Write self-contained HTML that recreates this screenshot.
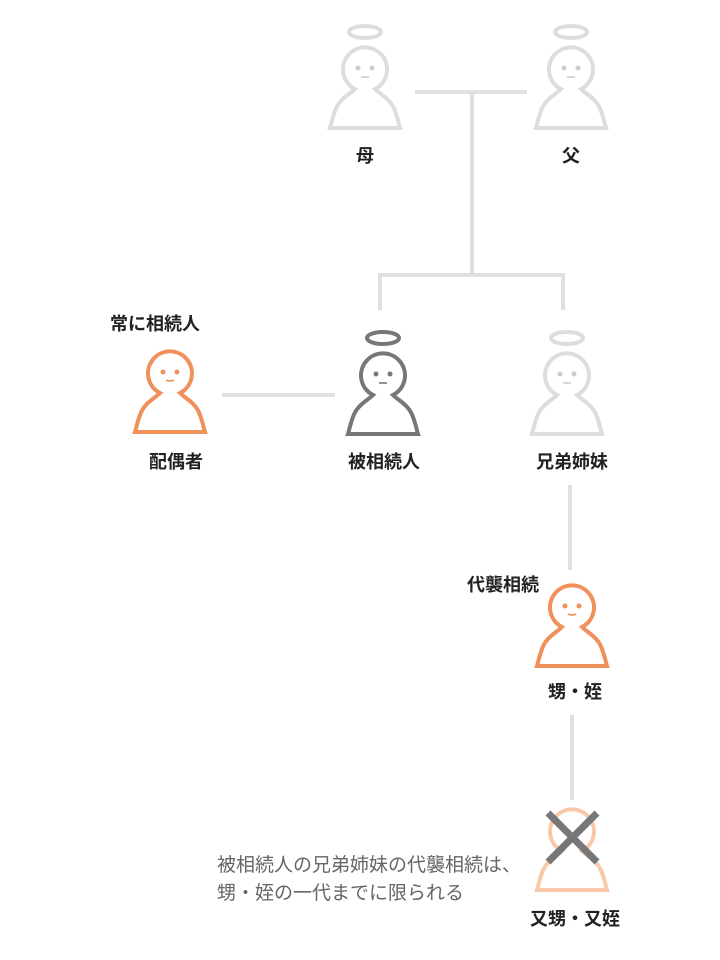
<!DOCTYPE html>
<html><head><meta charset="utf-8"><style>
body{margin:0;background:#fff;}
svg{display:block;font-family:"Liberation Sans","Noto Sans CJK JP",sans-serif;}
.l{font-weight:bold;font-size:18px;fill:#222;text-anchor:middle;}
</style></head><body>
<svg width="720" height="960" viewBox="0 0 720 960">
<defs>
<path id="p" d="M -10,20 A 22 22 0 1 1 10,20 C 16,26 26,30 30,42 C 33,50 34,56 35,59 L -35,59 C -34,56 -33,50 -30,42 C -26,30 -16,26 -10,20 Z"/>
<g id="face"><circle cx="-7" cy="-1" r="2"/><circle cx="7" cy="-1" r="2"/><path d="M -4,7 Q 0,9 4,7" fill="none" stroke-width="1.6"/></g>
<g id="face2"><circle cx="-7" cy="-1" r="2"/><circle cx="7" cy="-1" r="2"/><path d="M -4,8 L 4,8" fill="none" stroke-width="1.6"/></g>
</defs>
<g stroke="#e0e0e0" stroke-width="4" fill="none">
<path d="M415 92 H527 M472 92 V275 M380 310 V275 H563 V310 M222 395 H335 M570 485 V570 M572 715 V800"/>
</g>
<g transform="translate(365,69)"><ellipse cx="0" cy="-37" rx="16" ry="6" fill="none" stroke="#ddd" stroke-width="4"/><use href="#p" fill="#fff" stroke="#ddd" stroke-width="4"/><use href="#face2" fill="#ccc" stroke="#ccc"/></g>
<g transform="translate(571,69)"><ellipse cx="0" cy="-37" rx="16" ry="6" fill="none" stroke="#ddd" stroke-width="4"/><use href="#p" fill="#fff" stroke="#ddd" stroke-width="4"/><use href="#face2" fill="#ccc" stroke="#ccc"/></g>
<text x="365" y="162" class="l">母</text><text x="571" y="162" class="l">父</text>
<g transform="translate(170,373)"><use href="#p" fill="#fff" stroke="#f0905a" stroke-width="4"/><use href="#face" fill="#f0905a" stroke="#f0905a"/></g>
<text x="155" y="330" class="l">常に相続人</text>
<text x="176" y="468" class="l">配偶者</text>
<g transform="translate(383,375)"><ellipse cx="0" cy="-37" rx="16" ry="6" fill="none" stroke="#777" stroke-width="4"/><use href="#p" fill="#fff" stroke="#777" stroke-width="4"/><use href="#face2" fill="#777" stroke="#777"/></g>
<text x="384" y="468" class="l">被相続人</text>
<g transform="translate(567,375)"><ellipse cx="0" cy="-37" rx="16" ry="6" fill="none" stroke="#ddd" stroke-width="4"/><use href="#p" fill="#fff" stroke="#ddd" stroke-width="4"/><use href="#face2" fill="#ccc" stroke="#ccc"/></g>
<text x="572" y="468" class="l">兄弟姉妹</text>
<g transform="translate(572,607)"><use href="#p" fill="#fff" stroke="#f0905a" stroke-width="4"/><use href="#face" fill="#f0905a" stroke="#f0905a"/></g>
<text x="503" y="591" class="l">代襲相続</text>
<text x="575" y="698" class="l">甥・姪</text>
<g transform="translate(572,831)"><use href="#p" fill="#fff" stroke="#f8c8a8" stroke-width="4"/></g>
<path d="M548 813 L597 862 M597 813 L548 862" stroke="#777" stroke-width="7"/>
<text x="575" y="925" class="l">又甥・又姪</text>
<text x="217" y="871" font-size="19" fill="#666">被相続人の兄弟姉妹の代襲相続は、</text>
<text x="217" y="899" font-size="19" fill="#666">甥・姪の一代までに限られる</text>
</svg>
</body></html>
